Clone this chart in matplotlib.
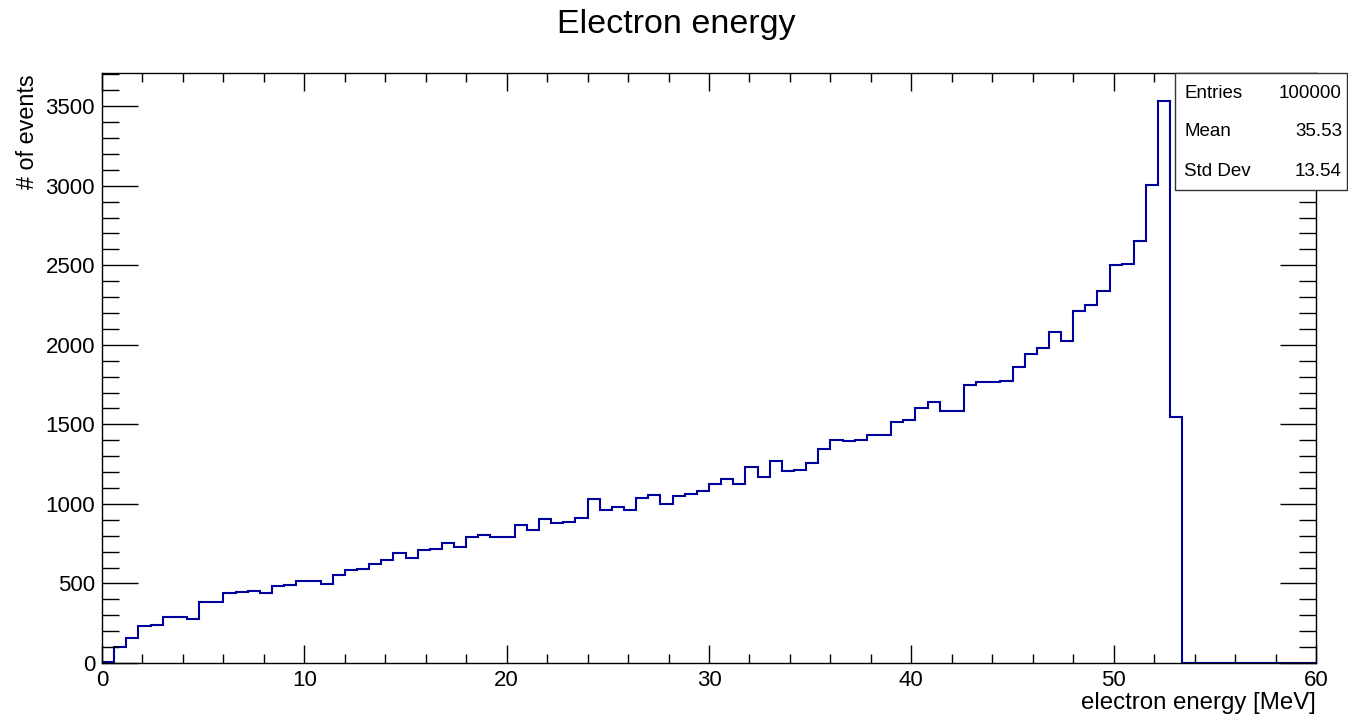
import numpy as np
import matplotlib
matplotlib.use("Agg")
import matplotlib.pyplot as plt
from matplotlib.patches import Rectangle
from matplotlib.ticker import MultipleLocator

# ---- data ----
x_min, x_max, n_bins = 0.0, 60.0, 100
counts = [
    5, 100, 155, 233, 239, 288, 292, 277, 386, 386,
    437, 445, 453, 437, 487, 492, 516, 516, 497, 556,
    586, 594, 624, 645, 691, 657, 710, 716, 752, 729,
    794, 802, 795, 789, 867, 839, 906, 883, 889, 911,
    1031, 961, 980, 960, 1035, 1059, 997, 1051, 1064, 1083,
    1123, 1158, 1126, 1230, 1169, 1268, 1207, 1213, 1256, 1347,
    1400, 1393, 1402, 1435, 1435, 1512, 1527, 1602, 1643, 1583,
    1583, 1747, 1764, 1765, 1775, 1858, 1941, 1977, 2082, 2021,
    2211, 2248, 2336, 2501, 2506, 2650, 3003, 3532, 1549, 0,
    0, 0, 0, 0, 0, 0, 0, 0, 0, 0,
]
title = "Electron energy"
x_label = "electron energy [MeV]"
y_label = "# of events"
stat_names = ["Entries", "Mean", "Std Dev"]
stat_values = ["100000", "35.53", "13.54"]

# ---- figure ----
W, H = 1348, 719
plt.rcParams["font.family"] = ["Liberation Sans", "DejaVu Sans"]
fig = plt.figure(figsize=(W / 100, H / 100), dpi=100)

L, R, T, B = 102, 1316, 73, 663
ax = fig.add_axes([L / W, 1 - B / H, (R - L) / W, (B - T) / H])

edges = np.linspace(x_min, x_max, n_bins + 1)
ax.stairs(counts, edges, color="#00009c", linewidth=1.5, baseline=0)

ax.set_xlim(x_min, x_max)
ax.set_ylim(0, max(counts) * 1.05)

for s in ax.spines.values():
    s.set_linewidth(1.0)
    s.set_color("black")

ax.xaxis.set_major_locator(MultipleLocator(10))
ax.xaxis.set_minor_locator(MultipleLocator(2))
ax.yaxis.set_major_locator(MultipleLocator(500))
ax.yaxis.set_minor_locator(MultipleLocator(100))
ax.tick_params(which="both", direction="in", top=True, right=True,
               labelsize=16, width=1.0, color="black")
ax.tick_params(axis="x", which="major", length=13, pad=5)
ax.tick_params(axis="x", which="minor", length=6.5)
ax.tick_params(axis="y", which="major", length=26, pad=5)
ax.tick_params(axis="y", which="minor", length=12.5)

ax.set_xlabel(x_label, fontsize=17.3, loc="right")
ax.xaxis.set_label_coords(1.0, (B - 692) / (B - T))

fig.text(28 / W, 1 - 74 / H, y_label, fontsize=16.8, rotation=90,
         ha="center", va="top")
fig.text(676 / W, 1 - 25 / H, title, fontsize=24.5, ha="center", va="center")

# stats box
bx0, bx1, by0, by1 = 1175, 1347, 73, 190
fig.patches.append(Rectangle((bx0 / W, 1 - by1 / H), (bx1 - bx0) / W, (by1 - by0) / H,
                             transform=fig.transFigure, facecolor="white",
                             edgecolor="#333333", linewidth=1.0, zorder=5))
rows_y = [93, 132, 171]
for name, val, yy in zip(stat_names, stat_values, rows_y):
    fig.text(1184 / W, 1 - yy / H, name, fontsize=13.5, ha="left", va="center", zorder=6)
    fig.text(1342 / W, 1 - yy / H, val, fontsize=13.5, ha="right", va="center", zorder=6)

fig.savefig("out.png", dpi=100)
